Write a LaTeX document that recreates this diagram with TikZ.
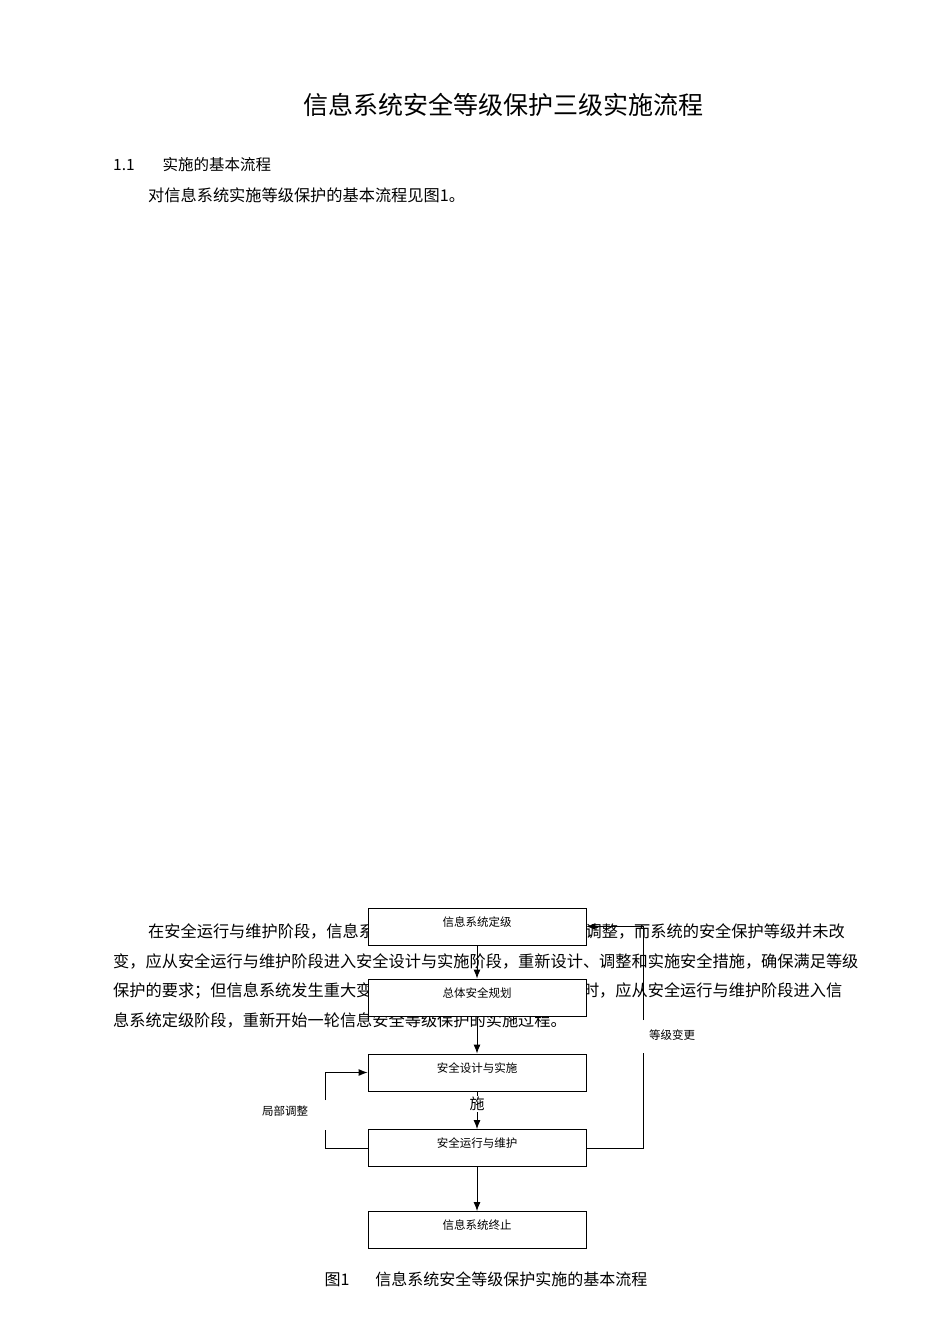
\documentclass[tikz,border=0pt]{standalone}
\usepackage{fontspec}
\setmainfont{Noto Sans CJK SC}
\usetikzlibrary{positioning,arrows.meta}
\tikzset{
  stage/.style={draw, fill=white, line width=0.9pt, minimum width=218pt, minimum height=37pt, inner sep=0pt},
  stagetext/.style={font=\fontsize{11.5}{12}\selectfont, anchor=center},
  flow/.style={-{Latex[length=9pt,width=7pt]}, line width=0.9pt},
  body/.style={anchor=west, inner sep=0pt, font=\fontsize{16.2}{17}\selectfont}
}
\begin{document}
\begin{tikzpicture}[x=1pt, y=-1pt]
            \useasboundingbox (0,0) rectangle (950,1344);
            % heading and text
            \node (title) at (503,105) {\fontsize{25}{26}\selectfont 信息系统安全等级保护三级实施流程};
            \node[body, font=\fontsize{15.5}{16}\selectfont] (sec) at (113,165) {1.1\hspace{28pt}实施的基本流程};
            \node[body] (intro) at (148,195) {对信息系统实施等级保护的基本流程见图1。};
            \node[body] (l1) at (148,931) {在安全运行与维护阶段，信息系统因需求变化等原因导致局部调整，而系统的安全保护等级并未改};
            \node[body] (l2) at (113,961) {变，应从安全运行与维护阶段进入安全设计与实施阶段，重新设计、调整和实施安全措施，确保满足等级};
            \node[body] (l3) at (113,991) {保护的要求；但信息系统发生重大变更导致系统安全保护等级变化时，应从安全运行与维护阶段进入信};
            \node[body] (l4) at (113,1020) {息系统定级阶段，重新开始一轮信息安全等级保护的实施过程。};

            % stages
            \node[stage] (grade) at (477,926.5) {};
            \node[stage] (plan) at (477,997.5) {};
            \node[stage] (design) at (477,1072.5) {};
            \node[stage] (run) at (477,1148) {};
            \node[stage] (stop) at (477,1230) {};
            \node[stagetext] at (477,922) {信息系统定级};
            \node[stagetext] at (477,993) {总体安全规划};
            \node[stagetext] at (477,1068) {安全设计与实施};
            \node[stagetext] at (477,1143) {安全运行与维护};
            \node[stagetext] at (477,1225) {信息系统终止};

            \draw[flow] (grade) -- (plan);
            \draw[flow] (plan) -- (design);
            \draw[flow] (design) -- (run);
            \draw[flow] (run) -- (stop);
            \node[font=\fontsize{15}{16}\selectfont, fill=white, inner sep=1pt] (shi) at (477,1104) {施};

            % level change loop
            \coordinate (rtop) at (643,1020);
            \coordinate (rbot) at (643,1053);
            \draw[line width=0.9pt] (run.east) -| (rbot);
            \draw[flow] (rtop) |- (grade.east);
            \node[font=\fontsize{11.5}{12}\selectfont] (chg) at (672,1035) {等级变更};

            % local adjustment loop
            \coordinate (ltop) at (325,1100);
            \coordinate (lbot) at (325,1130);
            \draw[line width=0.9pt] (run.west) -| (lbot);
            \draw[flow] (ltop) |- (design.west);
            \node[font=\fontsize{11.5}{12}\selectfont] (adj) at (285,1111) {局部调整};

            \node[font=\fontsize{16}{17}\selectfont] (cap) at (486,1279) {图1\hspace{26pt}信息系统安全等级保护实施的基本流程};
\end{tikzpicture}
\end{document}
